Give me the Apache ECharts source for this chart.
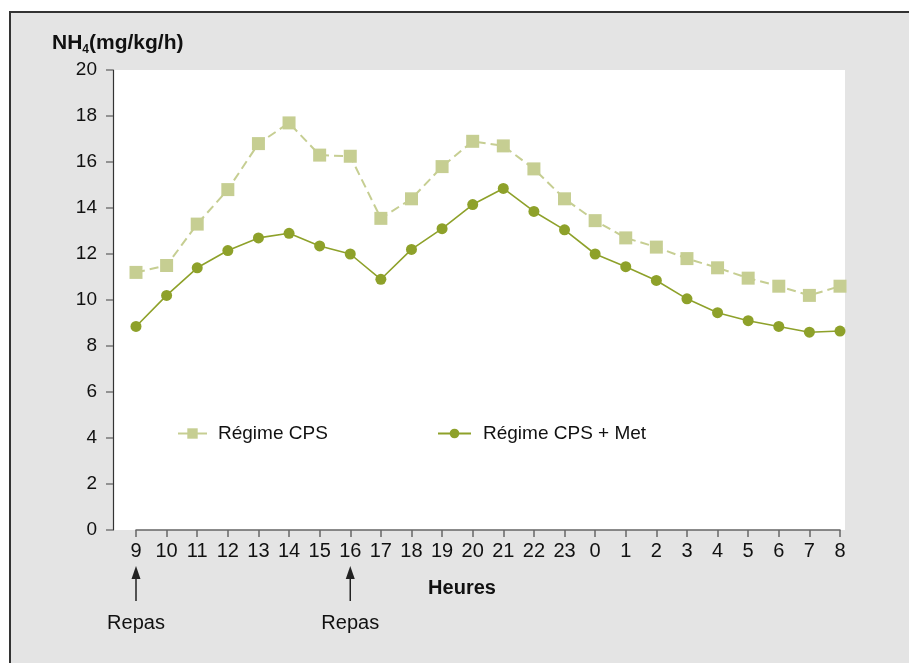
<!DOCTYPE html>
<html>
<head>
<meta charset="utf-8">
<script src="https://cdn.jsdelivr.net/npm/echarts@6/dist/echarts.min.js"></script>
<style>
  html, body { margin: 0; padding: 0; background: #fff; }
  #chart { width: 909px; height: 663px; }
</style>
</head>
<body>
<div id="chart"></div>
<script>
var hours = ['9','10','11','12','13','14','15','16','17','18','19','20','21','22','23','0','1','2','3','4','5','6','7','8'];
var cps = [11.2, 11.5, 13.3, 14.8, 16.8, 17.7, 16.3, 16.25, 13.55, 14.4, 15.8, 16.9, 16.7, 15.7, 14.4, 13.45, 12.7, 12.3, 11.8, 11.4, 10.95, 10.6, 10.2, 10.6];
var cpsMet = [8.85, 10.2, 11.4, 12.15, 12.7, 12.9, 12.35, 12.0, 10.9, 12.2, 13.1, 14.15, 14.85, 13.85, 13.05, 12.0, 11.45, 10.85, 10.05, 9.45, 9.1, 8.85, 8.6, 8.65];
var mealHours = ['9', '16'];
var seriesNames = ['Régime CPS', 'Régime CPS + Met'];

var font = "'Liberation Sans', Arial, sans-serif";
var chartDom = document.getElementById('chart');
var myChart = echarts.init(chartDom);
var option;

option = {
    backgroundColor: '#fff',
    animation: false,
    textStyle: { fontFamily: font },
    title: {
        left: 52,
        top: 31,
        padding: 0,
        text: '{a|NH}{s|4}{a|(mg/kg/h)}',
        textStyle: {
            rich: {
                a: { fontFamily: font, fontSize: 21, fontWeight: 'bold', color: '#111' },
                s: { fontFamily: font, fontSize: 12, fontWeight: 'bold', color: '#111', padding: [13, 0, 0, 0] }
            }
        }
    },
    legend: [
        {
            data: [seriesNames[0]],
            left: 177,
            top: 424,
            padding: 0,
            itemWidth: 29,
            itemHeight: 13,
            lineStyle: { type: 'solid' },
            textStyle: { fontFamily: font, fontSize: 19, color: '#111', padding: [0, 0, 0, 6] }
        },
        {
            data: [seriesNames[1]],
            left: 437,
            top: 424,
            padding: 0,
            itemWidth: 33,
            itemHeight: 12,
            lineStyle: { type: 'solid' },
            textStyle: { fontFamily: font, fontSize: 19, color: '#111', padding: [0, 0, 0, 7] }
        }
    ],
    grid: {
        left: 136,
        right: 69,
        top: 70,
        bottom: 133,
        containLabel: false
    },
    xAxis: {
        type: 'category',
        boundaryGap: false,
        data: hours,
        name: 'Heures',
        nameLocation: 'middle',
        nameGap: 48,
        nameTextStyle: {
            fontFamily: font,
            fontSize: 20,
            fontWeight: 'bold',
            color: '#111',
            padding: [0, 52, 0, 0]
        },
        axisLine: { show: true, lineStyle: { color: '#666', width: 1.5 } },
        axisTick: { show: true, alignWithLabel: true, length: 7, lineStyle: { color: '#666', width: 1.5 } },
        axisLabel: { margin: 11, fontFamily: font, fontSize: 20, color: '#111', interval: 0 },
        splitLine: { show: false }
    },
    yAxis: {
        type: 'value',
        min: 0,
        max: 20,
        interval: 2,
        offset: 23,
        axisLine: { show: true, lineStyle: { color: '#333', width: 1.2 } },
        axisTick: { show: true, length: 7, lineStyle: { color: '#777', width: 1.5 } },
        axisLabel: { margin: 16, fontFamily: font, fontSize: 19, color: '#111' },
        splitLine: { show: false }
    },
    graphic: [
        {
            type: 'rect',
            z: -10,
            shape: { x: 10, y: 12, width: 920, height: 680 },
            style: { fill: '#e4e4e4', stroke: '#333', lineWidth: 2 }
        },
        {
            type: 'rect',
            z: -9,
            shape: { x: 113, y: 70, width: 732, height: 460 },
            style: { fill: '#fff' }
        }
    ],
    series: [
        {
            name: seriesNames[0],
            type: 'line',
            symbol: 'rect',
            symbolSize: 13,
            itemStyle: { color: '#c6ce92' },
            lineStyle: { color: '#c6ce92', width: 2, type: [9, 5] },
            data: cps
        },
        {
            name: seriesNames[1],
            type: 'line',
            symbol: 'circle',
            symbolSize: 11,
            itemStyle: { color: '#8ea12a' },
            lineStyle: { color: '#8ea12a', width: 1.6 },
            data: cpsMet
        }
    ]
};
option && myChart.setOption(option);

// flèches "Repas" sous l'axe des heures
var extra = option.graphic.slice();
mealHours.forEach(function (h) {
    var x = myChart.convertToPixel({ xAxisIndex: 0 }, h);
    extra.push({
        type: 'line',
        shape: { x1: x, y1: 601, x2: x, y2: 576 },
        style: { stroke: '#222', lineWidth: 1.5 }
    });
    extra.push({
        type: 'polygon',
        shape: { points: [[x, 566], [x - 4.5, 579], [x + 4.5, 579]] },
        style: { fill: '#222' }
    });
    extra.push({
        type: 'text',
        x: x,
        y: 623,
        style: {
            text: 'Repas',
            fontFamily: font,
            fontSize: 20,
            fill: '#111',
            align: 'center',
            verticalAlign: 'middle'
        }
    });
});
myChart.setOption({ graphic: extra });

window.addEventListener('resize', function () {
    myChart.resize();
});
</script>
</body>
</html>
